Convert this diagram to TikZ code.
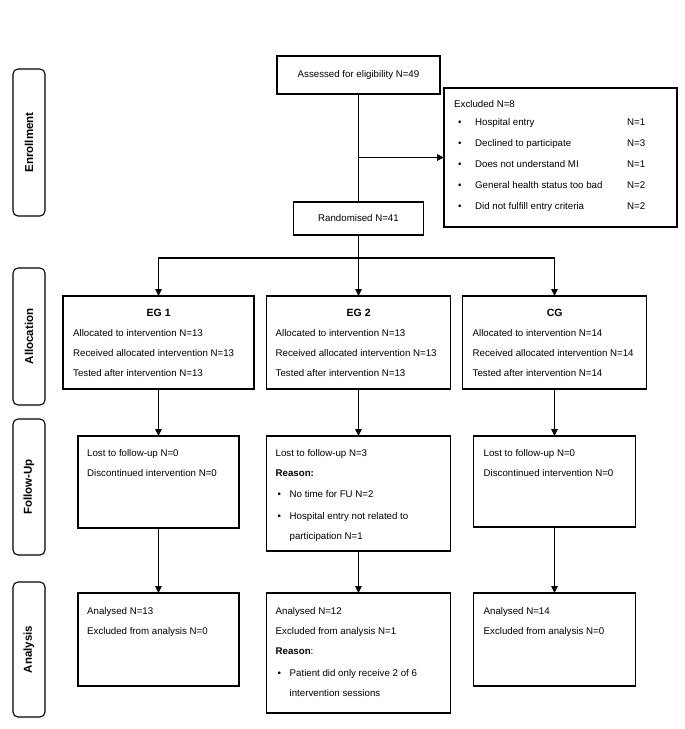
\documentclass[tikz,border=0pt]{standalone}
\usepackage{fontspec}
\setmainfont{Liberation Sans}
\usepackage{tikz}
\usetikzlibrary{arrows.meta,positioning}

\newcommand{\exitem}[2]{\makebox[21pt][l]{\hspace*{4pt}\textbullet}\makebox[152pt][l]{#1}#2}
\newcommand{\fubul}{\makebox[14pt][l]{\hspace*{2pt}\textbullet}}

\begin{document}
\begin{tikzpicture}[
  x=1pt, y=-1pt,
  box/.style={draw, line width=1.1pt, inner sep=0pt, outer sep=0pt},
  txt/.style={inner sep=0pt, align=left, font=\fontsize{9.7}{20}\selectfont},
  phase/.style={draw, line width=1.1pt, rounded corners=5pt, rotate=90, minimum height=32pt, inner sep=0pt, font=\bfseries\fontsize{11.5}{14}\selectfont},
  arrow/.style={-{Triangle[length=7pt,width=6.5pt]}, line width=1.1pt},
  line/.style={line width=1.1pt}
]
\useasboundingbox (0,0) rectangle (685,729);

% Phases
\node[phase, minimum width=147pt] (enrol) at (29,142.5) {Enrollment};
\node[phase, minimum width=137pt] (alloc) at (29,336.5) {Allocation};
\node[phase, minimum width=136pt] (follow) at (29,487) {Follow-Up};
\node[phase, minimum width=135pt] (analys) at (29,649.5) {Analysis};

% Enrollment
\node[box, txt, minimum width=163pt, minimum height=38pt] (assess) at (358.5,75) {Assessed for eligibility N=49};
\node[box, minimum width=233pt, minimum height=139pt] (excl) at (560.5,157.5) {};
\node[txt, font=\fontsize{9.7}{21}\selectfont, below right=12.5pt and 10pt of excl.north west] (excltxt) {Excluded N=8\\[-3pt]
  \exitem{Hospital entry}{N=1}\\
  \exitem{Declined to participate}{N=3}\\
  \exitem{Does not understand MI}{N=1}\\
  \exitem{General health status too bad}{N=2}\\
  \exitem{Did not fulfill entry criteria}{N=2}};
\node[box, txt, minimum width=130pt, minimum height=33pt] (rand) at (358.5,218.5) {Randomised N=41};

% Allocation
\node[box, minimum width=191pt, minimum height=93pt] (a1) at (158.5,342.5) {};
\node[box, minimum width=184pt, minimum height=93pt] (a2) at (358.5,342.5) {};
\node[box, minimum width=184pt, minimum height=93pt] (a3) at (554.5,342.5) {};
\node[txt, below right=12.5pt and 10pt of a1.north west] (a1txt) {\makebox[171pt]{\bfseries\fontsize{10.5}{20}\selectfont EG 1}\\
  Allocated to intervention N=13\\ Received allocated intervention N=13\\ Tested after intervention N=13};
\node[txt, below right=12.5pt and 9pt of a2.north west] (a2txt) {\makebox[166pt]{\bfseries\fontsize{10.5}{20}\selectfont EG 2}\\
  Allocated to intervention N=13\\ Received allocated intervention N=13\\ Tested after intervention N=13};
\node[txt, below right=12.5pt and 10pt of a3.north west] (a3txt) {\makebox[164pt]{\bfseries\fontsize{10.5}{20}\selectfont CG}\\
  Allocated to intervention N=14\\ Received allocated intervention N=14\\ Tested after intervention N=14};

% Follow-up
\node[box, minimum width=161pt, minimum height=92pt] (f1) at (158.5,482) {};
\node[box, minimum width=184pt, minimum height=115pt] (f2) at (358.5,493.5) {};
\node[box, minimum width=162pt, minimum height=91pt] (f3) at (554.5,481.5) {};
\node[txt, below right=13pt and 9pt of f1.north west] (f1txt) {Lost to follow-up N=0\\ Discontinued intervention N=0};
\node[txt, below right=13pt and 9pt of f2.north west] (f2txt) {Lost to follow-up N=3\\ \textbf{Reason:}\\[1pt]
  \fubul No time for FU N=2\\[2pt]
  \fubul Hospital entry not related to\\ \hspace*{14pt}participation N=1};
\node[txt, below right=13pt and 10pt of f3.north west] (f3txt) {Lost to follow-up N=0\\ Discontinued intervention N=0};

% Analysis
\node[box, minimum width=161pt, minimum height=93pt] (n1) at (158.5,639.5) {};
\node[box, minimum width=184pt, minimum height=120pt] (n2) at (358.5,653) {};
\node[box, minimum width=162pt, minimum height=93pt] (n3) at (554.5,639.5) {};
\node[txt, below right=14.5pt and 9pt of n1.north west] (n1txt) {Analysed N=13\\ Excluded from analysis N=0};
\node[txt, below right=14.5pt and 9pt of n2.north west] (n2txt) {Analysed N=12\\ Excluded from analysis N=1\\ \textbf{Reason}:\\[2pt]
  \fubul Patient did only receive 2 of 6\\ \hspace*{14pt}intervention sessions};
\node[txt, below right=14.5pt and 10pt of n3.north west] (n3txt) {Analysed N=14\\ Excluded from analysis N=0};

% Arrows
\coordinate (exc) at (assess.south |- excl.west);
\coordinate (split) at (358.5,258);
\draw[line] (assess) -- (rand);
\draw[arrow] (exc) -- (excl);
\draw[line] (rand) -- (split);
\draw[arrow] (split) -| (a1);
\draw[arrow] (split) -- (a2);
\draw[arrow] (split) -| (a3);
\draw[arrow] (a1) -- (f1);
\draw[arrow] (a2) -- (f2);
\draw[arrow] (a3) -- (f3);
\draw[arrow] (f1) -- (n1);
\draw[arrow] (f2) -- (n2);
\draw[arrow] (f3) -- (n3);

\end{tikzpicture}
\end{document}
